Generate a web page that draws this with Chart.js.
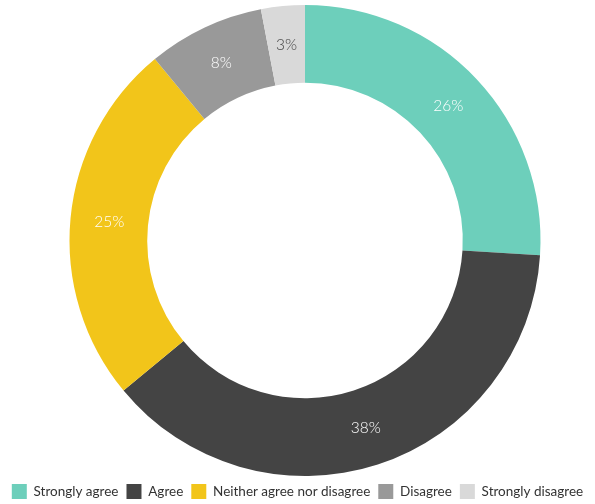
<!DOCTYPE html>
<html>
<head>
<meta charset="utf-8">
<script src="https://cdn.jsdelivr.net/npm/chart.js@4/dist/chart.umd.min.js"></script>
<style>
  html, body { margin: 0; padding: 0; background: #fff; }
  #wrap { width: 595px; height: 504px; }
</style>
</head>
<body>
<div id="wrap"><canvas id="surveyChart"></canvas></div>
<script>
const labels = ["Strongly agree", "Agree", "Neither agree nor disagree", "Disagree", "Strongly disagree"];
const shares = [26, 38, 25, 8, 3];
const colors = ["#6dcfbb", "#444444", "#f2c51a", "#999999", "#d9d9d9"];
const textColors = ["#ffffff", "#ffffff", "#ffffff", "#ffffff", "#444444"];

const ctx = document.getElementById("surveyChart").getContext("2d");

// nudge the ring a little to the right of the legend's centre
const shiftRing = {
  id: "shiftRing",
  afterLayout(chart) {
    chart.chartArea.left += 15;
    chart.chartArea.width = chart.chartArea.right - chart.chartArea.left;
  }
};

// percent labels in the middle of each slice
const sliceLabels = {
  id: "sliceLabels",
  afterDatasetsDraw(chart) {
    const c = chart.ctx;
    const meta = chart.getDatasetMeta(0);
    c.save();
    c.font = "300 15.5px Lato, 'Open Sans', sans-serif";
    c.textAlign = "center";
    c.textBaseline = "middle";
    meta.data.forEach((arc, i) => {
      const pos = arc.tooltipPosition();
      c.fillStyle = textColors[i];
      c.fillText(shares[i] + "%", pos.x, pos.y);
    });
    c.restore();
  }
};

new Chart(ctx, {
  type: "doughnut",
  data: {
    labels,
    datasets: [{
      data: shares,
      backgroundColor: colors,
      borderWidth: 0,
      hoverOffset: 0
    }]
  },
  options: {
    responsive: true,
    maintainAspectRatio: false,
    animation: false,
    cutout: "67%",
    layout: { padding: { top: 5, bottom: -5 } },
    plugins: {
      tooltip: { enabled: false },
      legend: {
        position: "bottom",
        labels: {
          boxWidth: 15,
          boxHeight: 15,
          padding: 8,
          color: "#333333",
          font: { family: "Lato, 'Open Sans', sans-serif", size: 13.5 }
        }
      }
    }
  },
  plugins: [shiftRing, sliceLabels]
});
</script>
</body>
</html>
